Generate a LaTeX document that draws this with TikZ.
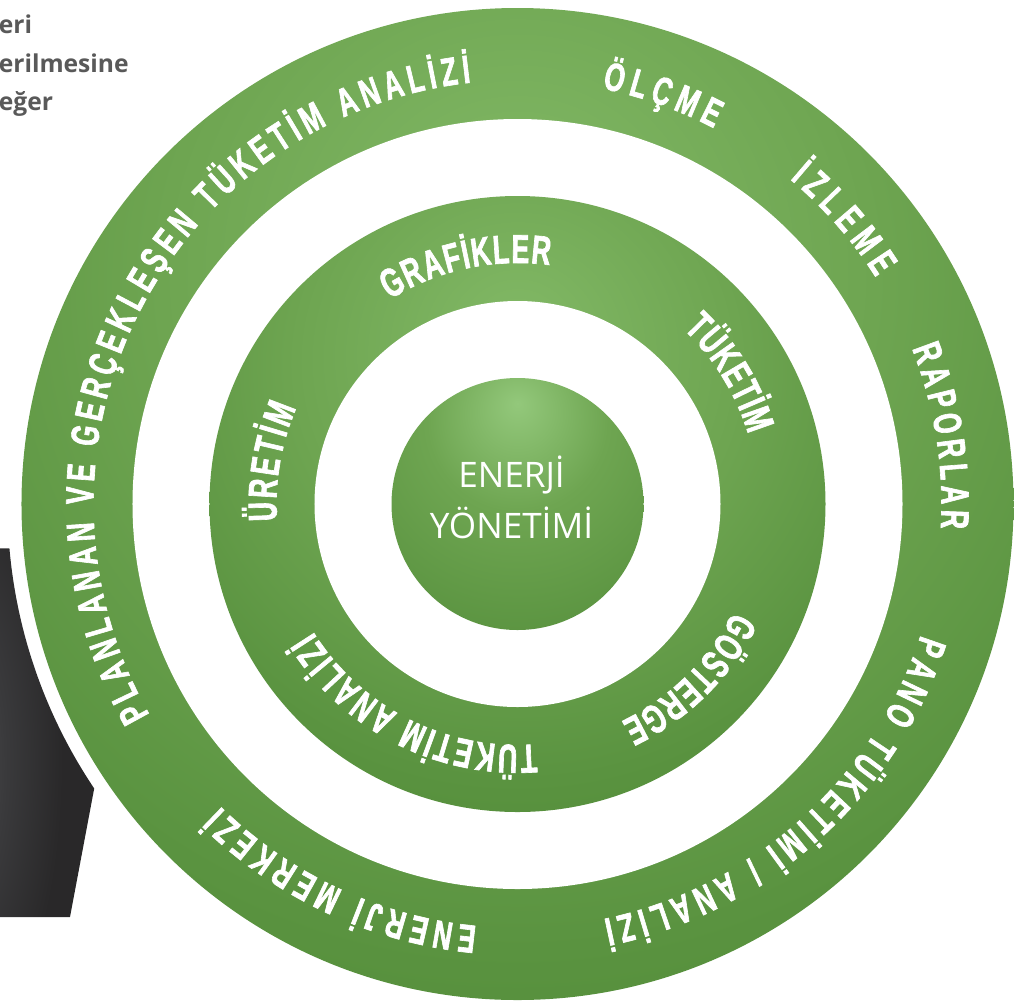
\documentclass[tikz,border=0pt]{standalone}
\usepackage{fontspec}
\setmainfont{Open Sans}
\newfontfamily\ringfont[FakeStretch=0.66, FakeBold=1.6]{Liberation Sans}
\usepackage{tikz}
\usetikzlibrary{decorations.text}
\definecolor{leafdark}{HTML}{4E8833}
\definecolor{leafshade}{HTML}{5A9340}
\definecolor{leafmid}{HTML}{6EA551}
\definecolor{leaflight}{HTML}{82B966}
\definecolor{corelight}{HTML}{93C87B}
\definecolor{sidegrey}{HTML}{595959}
\definecolor{slate}{HTML}{292829}
\definecolor{slatemid}{HTML}{3A3A3C}
\definecolor{slatelight}{HTML}{555557}
\pgfdeclareradialshading{ringglow}{\pgfpoint{0bp}{14bp}}{color(0bp)=(leaflight); color(18bp)=(leafmid); color(32bp)=(leafshade); color(44bp)=(leafdark); color(100bp)=(leafdark)}
\pgfdeclareradialshading{coreglow}{\pgfpoint{0bp}{20bp}}{color(0bp)=(corelight); color(18bp)=(leafmid); color(40bp)=(leafshade); color(55bp)=(leafdark); color(100bp)=(leafdark)}
\pgfdeclareradialshading{darkglow}{\pgfpoint{-38bp}{-5bp}}{color(0bp)=(slatelight); color(18bp)=(slatemid); color(36bp)=(slate); color(100bp)=(slate)}
\newcommand{\outerstyle}{\ringfont\bfseries\fontsize{22.5}{26}\selectfont}
\newcommand{\innerstyle}{\ringfont\bfseries\fontsize{23}{26}\selectfont}
\newcommand{\ringlabel}[5]{\path[ringtext, decoration={text={|#1|#2}}] (#3:#5) arc[start angle=#3, end angle=#4, radius=#5];}

\begin{document}
\begin{tikzpicture}[x=0.02cm, y=0.02cm,
    ringtext/.style={decorate, decoration={text along path, text color=white, text align={fit to path}}},
    coretext/.style={text=white, font=\fontsize{20}{24}\selectfont, anchor=base, inner sep=0pt},
    sidetext/.style={text=sidegrey, font=\bfseries\fontsize{14}{17}\selectfont, anchor=base west, inner sep=0pt}]
    \clip (-517.5,-498) rectangle (505.5,504);
    \shade[shading=darkglow] (-540,-44.4) -- (185:510) arc[start angle=185, end angle=213.9, radius=510] -- (-447.5,-413) -- (-540,-413) -- cycle;
    \shade[shading=ringglow] (0,0) circle[radius=496];
    \fill[white] (0,0) circle[radius=385];
    \shade[shading=ringglow] (0,0) circle[radius=308];
    \fill[white] (0,0) circle[radius=203];
    \shade[shading=coreglow] (0,0) circle[radius=126];
    \node[coretext] (core1) at (-6,17) {ENERJİ};
    \node[coretext] (core2) at (-6,-34) {YÖNETİMİ};
    \node[sidetext] (side1) at (-519,471) {eri};
    \node[sidetext] (side2) at (-519,432) {erilmesine};
    \node[sidetext] (side3) at (-519,394) {eğer};
    \ringlabel{\outerstyle}{PLANLANAN VE GERÇEKLEŞEN TÜKETİM ANALİZİ}{209.8}{96.3}{424}
    \ringlabel{\outerstyle}{ÖLÇME}{78.5}{62.4}{424}
    \ringlabel{\outerstyle}{İZLEME}{50}{32.3}{424}
    \ringlabel{\outerstyle}{RAPORLAR}{21.5}{-3.3}{424}
    \ringlabel{\outerstyle}{PANO TÜKETİMİ / ANALİZİ}{-18}{-78.3}{424}
    \ringlabel{\outerstyle}{ENERJİ MERKEZİ}{264.5}{225.5}{424}
    \ringlabel{\innerstyle}{GRAFİKLER}{122}{82.3}{241}
    \ringlabel{\innerstyle}{TÜKETİM}{46.5}{16.8}{241}
    \ringlabel{\innerstyle}{GÖSTERGE}{-26.5}{-64.5}{241}
    \ringlabel{\innerstyle}{TÜKETİM ANALİZİ}{274.5}{212}{241}
    \ringlabel{\innerstyle}{ÜRETİM}{184}{156.5}{241}
\end{tikzpicture}
\end{document}
